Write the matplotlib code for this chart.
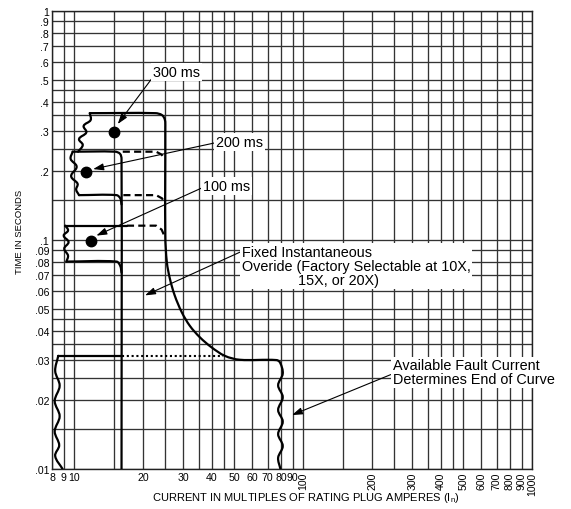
import matplotlib
matplotlib.use("Agg")
import matplotlib.pyplot as plt
import numpy as np
from matplotlib.path import Path
from matplotlib.patches import PathPatch
from matplotlib.ticker import FixedLocator, NullFormatter, FixedFormatter
from matplotlib import font_manager

names = {f.name for f in font_manager.fontManager.ttflist}
BASE = 'Liberation Sans' if 'Liberation Sans' in names else 'DejaVu Sans'
NARROW = 'Liberation Sans Narrow' if 'Liberation Sans Narrow' in names else BASE
plt.rcParams['font.family'] = [BASE]

# ---------------- data ----------------
x_ticks = [8, 9, 10, 20, 30, 40, 50, 60, 70, 80, 90, 100, 200, 300, 400, 500, 600, 700, 800, 900, 1000]
x_tick_labels = ['8', '9', '10', '20', '30', '40', '50', '60', '70', '80', '90',
                 '100', '200', '300', '400', '500', '600', '700', '800', '900', '1000']
x_extra_grid = [15, 25, 35, 45, 150, 250, 350, 450]
y_ticks = [0.01, 0.02, 0.03, 0.04, 0.05, 0.06, 0.07, 0.08, 0.09,
           0.1, 0.2, 0.3, 0.4, 0.5, 0.6, 0.7, 0.8, 0.9, 1.0]
y_tick_labels = ['.01', '.02', '.03', '.04', '.05', '.06', '.07', '.08', '.09',
                 '.1', '.2', '.3', '.4', '.5', '.6', '.7', '.8', '.9', '1']
y_extra_grid = [0.015, 0.025, 0.035, 0.045, 0.15, 0.25, 0.35, 0.45]

# 300 ms band: left wavy edge (bottom -> top)
w300_x = [10.4, 10.9, 10.5, 11.3, 11.0, 11.8, 11.7]
w300_y = [0.243, 0.26, 0.276, 0.295, 0.315, 0.334, 0.358]
# 300 ms top, I2t vertical, instantaneous override curve, fault-current end
main_x = [11.7, 22.6, 24.2, 24.9, 25.0, 25.0, 25.4, 26.2, 27.5, 29.5, 32.0, 35.4, 39.8, 45.5, 52.8,
          76.5, 79.4, 81.5, 77.8, 81.5, 77.8, 81.5, 77.8, 81.5, 77.8, 79.6]
main_y = [0.358, 0.358, 0.351, 0.335, 0.31, 0.105, 0.080, 0.0676, 0.0572, 0.0484, 0.0422, 0.0376, 0.0340, 0.0312, 0.0300,
          0.0299, 0.0291, 0.0261, 0.0232, 0.0206, 0.0181, 0.0161, 0.0142, 0.0126, 0.0112, 0.0100]

# 200 ms band
w200_x = [9.85, 9.65, 10.25, 9.7, 10.35, 10.2, 10.5]
w200_y = [0.243, 0.226, 0.209, 0.19, 0.176, 0.166, 0.157]
top200_x = [9.85, 15.1, 15.85, 16.1, 16.1]
top200_y = [0.243, 0.243, 0.238, 0.226, 0.01]
bot200_x = [10.5, 15.3, 15.9, 16.1]
bot200_y = [0.157, 0.157, 0.152, 0.143]

# 100 ms band
w100_x = [9.15, 9.4, 9.0, 9.45, 9.05, 9.4, 9.25]
w100_y = [0.1155, 0.11, 0.1045, 0.098, 0.0917, 0.0855, 0.0805]
top100_x = [9.15, 17.0]
top100_y = [0.1155, 0.1155]
bot100_x = [9.25, 15.3, 15.9, 16.1]
bot100_y = [0.0805, 0.0805, 0.077, 0.072]

# lowest band
lowtop_x = [16.1, 8.52]
lowtop_y = [0.0312, 0.0312]
wlow_x = [8.52, 8.26, 8.64, 8.22, 8.64, 8.22, 8.6, 8.26, 8.9]
wlow_y = [0.0312, 0.0268, 0.0231, 0.0198, 0.017, 0.0146, 0.0127, 0.0114, 0.0100]

# dashed / dotted continuations
dash1_x = [16.3, 22.8, 24.1, 24.7]
dash1_y = [0.243, 0.243, 0.236, 0.228]
dash2_x = [16.4, 22.8, 24.2, 24.9]
dash2_y = [0.157, 0.157, 0.152, 0.145]
dash3_x = [17.0, 22.8, 24.1, 24.8]
dash3_y = [0.1155, 0.1155, 0.111, 0.104]
dot_x = [16.1, 44.5]
dot_y = [0.0312, 0.0312]

# setting points
pts_x = [15.0, 11.3, 11.85]
pts_y = [0.297, 0.199, 0.0994]

# ---------------- figure ----------------
fig = plt.figure(figsize=(5.71, 5.10), dpi=100)
ax = fig.add_axes([52 / 571, 1 - 470 / 510, 480 / 571, 458 / 510])
ax.set_xscale('log')
ax.set_yscale('log')
ax.set_xlim(8, 1000)
ax.set_ylim(0.01, 1)

ax.xaxis.set_major_locator(FixedLocator(x_ticks))
ax.xaxis.set_major_formatter(FixedFormatter(x_tick_labels))
ax.xaxis.set_minor_locator(FixedLocator(x_extra_grid))
ax.xaxis.set_minor_formatter(NullFormatter())
ax.yaxis.set_major_locator(FixedLocator(y_ticks))
ax.yaxis.set_major_formatter(FixedFormatter(y_tick_labels))
ax.yaxis.set_minor_locator(FixedLocator(y_extra_grid))
ax.yaxis.set_minor_formatter(NullFormatter())
ax.tick_params(which='both', length=0)
ax.tick_params(axis='x', pad=2, labelsize=7.6)
ax.tick_params(axis='y', pad=2, labelsize=7.6)
for lab, v in zip(ax.get_xticklabels(), x_ticks):
    if v >= 100:
        lab.set_rotation(90)
        lab.set_va('top')
ax.set_axisbelow(True)
ax.grid(True, which='both', color='#333333', lw=0.95)
for s in ax.spines.values():
    s.set_color('#222222')
    s.set_linewidth(1.0)

ax.set_xlabel('CURRENT IN MULTIPLES OF RATING PLUG AMPERES (I$_\\mathregular{n}$)', fontsize=8)
ax.xaxis.set_label_coords((306 - 52) / 480, (470 - 498) / 458)
ax.xaxis.label.set_va('center')
ax.set_ylabel('TIME IN SECONDS', fontsize=6.8, family=NARROW)
ax.yaxis.set_label_coords((20 - 52) / 480, (470 - 232) / 458)
ax.yaxis.label.set_va('center')

LW = 1.6


def smooth(xs, ys, **kw):
    P = np.column_stack([np.log10(xs), np.log10(ys)])
    n = len(P)
    dirs = []
    for i in range(n):
        d = P[min(i + 1, n - 1)] - P[max(i - 1, 0)]
        nrm = np.hypot(d[0], d[1])
        dirs.append(d / nrm if nrm > 0 else d)
    verts = [P[0]]
    codes = [Path.MOVETO]
    for i in range(n - 1):
        seg = np.hypot(*(P[i + 1] - P[i]))
        verts += [P[i] + dirs[i] * seg / 3, P[i + 1] - dirs[i + 1] * seg / 3, P[i + 1]]
        codes += [Path.CURVE4] * 3
    path = Path(10 ** np.array(verts), codes)
    ax.add_patch(PathPatch(path, fill=False, transform=ax.transData, lw=LW, ec='black',
                           capstyle='round', joinstyle='round', zorder=4, **kw))


smooth(w300_x, w300_y)
smooth(main_x, main_y)
smooth(w200_x, w200_y)
smooth(top200_x, top200_y)
smooth(bot200_x, bot200_y)
smooth(w100_x, w100_y)
smooth(bot100_x, bot100_y)
smooth(wlow_x, wlow_y)
ax.plot(top100_x, top100_y, color='black', lw=LW, solid_capstyle='round', zorder=4)
ax.plot(lowtop_x, lowtop_y, color='black', lw=LW, solid_capstyle='round', zorder=4)

for dx, dy in [(dash1_x, dash1_y), (dash2_x, dash2_y), (dash3_x, dash3_y)]:
    ax.plot(dx, dy, color='black', lw=LW, dashes=(3.2, 1.9), zorder=4)
ax.plot(dot_x, dot_y, color='black', lw=1.5, dashes=(1.0, 1.3), zorder=4)

ax.plot(pts_x, pts_y, 'o', color='black', ms=7.5, zorder=5)

FS = 10.4
box = dict(boxstyle='square,pad=0.12', fc='white', ec='none')


def note(text, xy, xytext, relpos, **kw):
    ax.annotate(text, xy=xy, xytext=xytext, textcoords='data', fontsize=FS,
                ha='left', va='center', bbox=box, zorder=6,
                arrowprops=dict(arrowstyle='-|>,head_length=0.6,head_width=0.2',
                                color='black', lw=0.8, shrinkA=0, shrinkB=0,
                                relpos=relpos), **kw)


note('300 ms', (15.5, 0.321), (22.1, 0.541), (0.0, 0.15))
note('200 ms', (12.1, 0.204), (41.6, 0.268), (0.0, 0.45))
note('100 ms', (12.5, 0.1045), (36.5, 0.172), (0.0, 0.4))
note('Fixed Instantaneous\nOveride (Factory Selectable at 10X,\n              15X, or 20X)',
     (20.4, 0.0573), (54.0, 0.0770), (0.0, 0.85), linespacing=1.0)
note('Available Fault Current\nDetermines End of Curve',
     (89.4, 0.0172), (246, 0.0264), (0.0, 0.45), linespacing=1.0)

fig.savefig('out.png', dpi=100)
